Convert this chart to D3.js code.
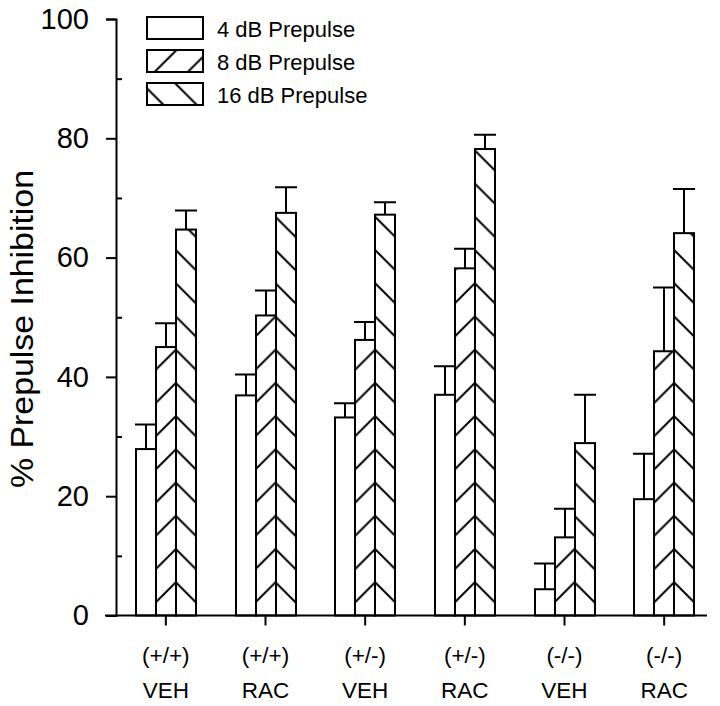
<!DOCTYPE html>
<html>
<head>
<meta charset="utf-8">
<script src="https://cdn.jsdelivr.net/npm/d3@7"></script>
<style>
  html, body { margin: 0; padding: 0; background: #fff; }
  svg { display: block; font-family: Arial, "Liberation Sans", Helvetica, sans-serif; }
</style>
</head>
<body>
<svg id="chart" width="720" height="706"></svg>
<script>
// ---- data ----
const genotypes  = ["(+/+)", "(+/+)", "(+/-)", "(+/-)", "(-/-)", "(-/-)"];
const treatments = ["VEH", "RAC", "VEH", "RAC", "VEH", "RAC"];
const seriesNames = ["4 dB Prepulse", "8 dB Prepulse", "16 dB Prepulse"];
const pp4     = [27.9, 36.9, 33.2, 37.0, 4.4, 19.5];
const pp4Err  = [4.1, 3.5, 2.4, 4.8, 4.3, 7.6];
const pp8     = [45.0, 50.3, 46.2, 58.2, 13.1, 44.3];
const pp8Err  = [4.0, 4.2, 3.0, 3.3, 4.8, 10.7];
const pp16    = [64.7, 67.5, 67.2, 78.2, 28.9, 64.1];
const pp16Err = [3.2, 4.3, 2.1, 2.4, 8.1, 7.4];
const yTickValues  = [0, 20, 40, 60, 80, 100];
const yMinorValues = [10, 30, 50, 70, 90];
const yTitle = "% Prepulse Inhibition";

const seriesValues = [pp4, pp8, pp16];
const seriesErrors = [pp4Err, pp8Err, pp16Err];

// ---- layout ----
const svg = d3.select("#chart");
const idx = d3.range(genotypes.length);
const x = d3.scaleBand().domain(idx).range([116, 714]).paddingInner(0).paddingOuter(0);
const xs = d3.scaleBand().domain(d3.range(seriesNames.length)).range([-30, 30]);
const y = d3.scaleLinear().domain([0, 100]).range([615.5, 19]);
const ink = "#000";
const sw = 2;

// ---- hatch patterns (shared user-space so chevrons meet at bar borders) ----
const P = x.step() / 3;
const bx = x(0) + x.bandwidth() / 2 + xs(2);
const defs = svg.append("defs");
function addPattern(id, up) {
  const p = defs.append("pattern")
    .attr("id", id)
    .attr("patternUnits", "userSpaceOnUse")
    .attr("x", bx).attr("y", y(0))
    .attr("width", P).attr("height", P);
  p.append("rect").attr("width", P).attr("height", P).attr("fill", "#fff");
  const q = P / 4;
  const d = up
    ? `M0,${P}L${P},0M${-q},${q}L${q},${-q}M${P - q},${P + q}L${P + q},${P - q}`
    : `M0,0L${P},${P}M${-q},${P - q}L${q},${P + q}M${P - q},${-q}L${P + q},${q}`;
  p.append("path").attr("d", d).attr("stroke", ink).attr("stroke-width", sw).attr("fill", "none");
}
addPattern("hatchUp", true);
addPattern("hatchDown", false);
const fills = ["#fff", "url(#hatchUp)", "url(#hatchDown)"];

// ---- bars ----
const barData = [];
idx.forEach(i => seriesNames.forEach((s, j) => {
  barData.push({ i, j, v: seriesValues[j][i], e: seriesErrors[j][i] });
}));
const bars = svg.append("g");
bars.selectAll("rect").data(barData).join("rect")
  .attr("x", d => Math.round(x(d.i) + x.bandwidth() / 2 + xs(d.j)))
  .attr("width", Math.round(xs.bandwidth()))
  .attr("y", d => y(d.v))
  .attr("height", d => y(0) - y(d.v))
  .attr("fill", d => fills[d.j])
  .attr("stroke", ink).attr("stroke-width", sw);

// ---- error bars ----
const eb = svg.append("g").attr("stroke", ink).attr("stroke-width", sw).attr("fill", "none");
eb.selectAll("path").data(barData).join("path")
  .attr("d", d => {
    const cx = Math.round(x(d.i) + x.bandwidth() / 2 + xs(d.j) + xs.bandwidth() / 2);
    const top = y(d.v + d.e);
    return `M${cx},${y(d.v)}V${top}M${cx - 11},${top}H${cx + 11}`;
  });

// ---- y axis ----
const yAxis = svg.append("g").attr("transform", "translate(116,0)")
  .call(d3.axisLeft(y).tickValues(yTickValues).tickSize(10).tickPadding(17).tickFormat(d3.format("d")));
yAxis.selectAll("line, path").attr("stroke", ink).attr("stroke-width", sw);
yAxis.selectAll("text").attr("font-size", 29).attr("fill", ink)
  .attr("font-family", 'Arial, "Liberation Sans", Helvetica, sans-serif');

const yMinor = svg.append("g").attr("transform", "translate(116,0)")
  .call(d3.axisRight(y).tickValues(yMinorValues).tickSize(6).tickFormat(""));
yMinor.select(".domain").remove();
yMinor.selectAll("line").attr("stroke", ink).attr("stroke-width", sw);

// ---- x axis ----
const xAxis = svg.append("g").attr("transform", `translate(0,${y(0)})`)
  .call(d3.axisBottom(x).tickSizeInner(10).tickSizeOuter(0).tickFormat(""));
xAxis.select(".domain").attr("d", "M105,0H707");
xAxis.selectAll("line, path").attr("stroke", ink).attr("stroke-width", sw);

const catLabels = svg.append("g")
  .attr("font-size", 22.5).attr("fill", ink).attr("text-anchor", "middle");
catLabels.selectAll("text.g").data(idx).join("text").attr("class", "g")
  .attr("x", i => x(i) + x.bandwidth() / 2).attr("y", 663).text(i => genotypes[i]);
catLabels.selectAll("text.t").data(idx).join("text").attr("class", "t")
  .attr("x", i => x(i) + x.bandwidth() / 2).attr("y", 698).text(i => treatments[i]);

// ---- y title ----
svg.append("text")
  .attr("transform", "translate(33,329) rotate(-90)")
  .attr("text-anchor", "middle")
  .attr("font-size", 31)
  .attr("textLength", 318).attr("lengthAdjust", "spacingAndGlyphs")
  .attr("fill", ink)
  .text(yTitle);

// ---- legend ----
const legend = svg.append("g");
const lg = legend.selectAll("g").data(seriesNames).join("g");
lg.append("rect")
  .attr("x", 147).attr("y", (d, j) => 17 + 33 * j)
  .attr("width", 56).attr("height", 22)
  .attr("fill", (d, j) => fills[j])
  .attr("stroke", ink).attr("stroke-width", sw);
lg.append("text")
  .attr("x", 217).attr("y", (d, j) => 37 + 33 * j)
  .attr("font-size", 22).attr("fill", ink)
  .text(d => d);
</script>
</body>
</html>
